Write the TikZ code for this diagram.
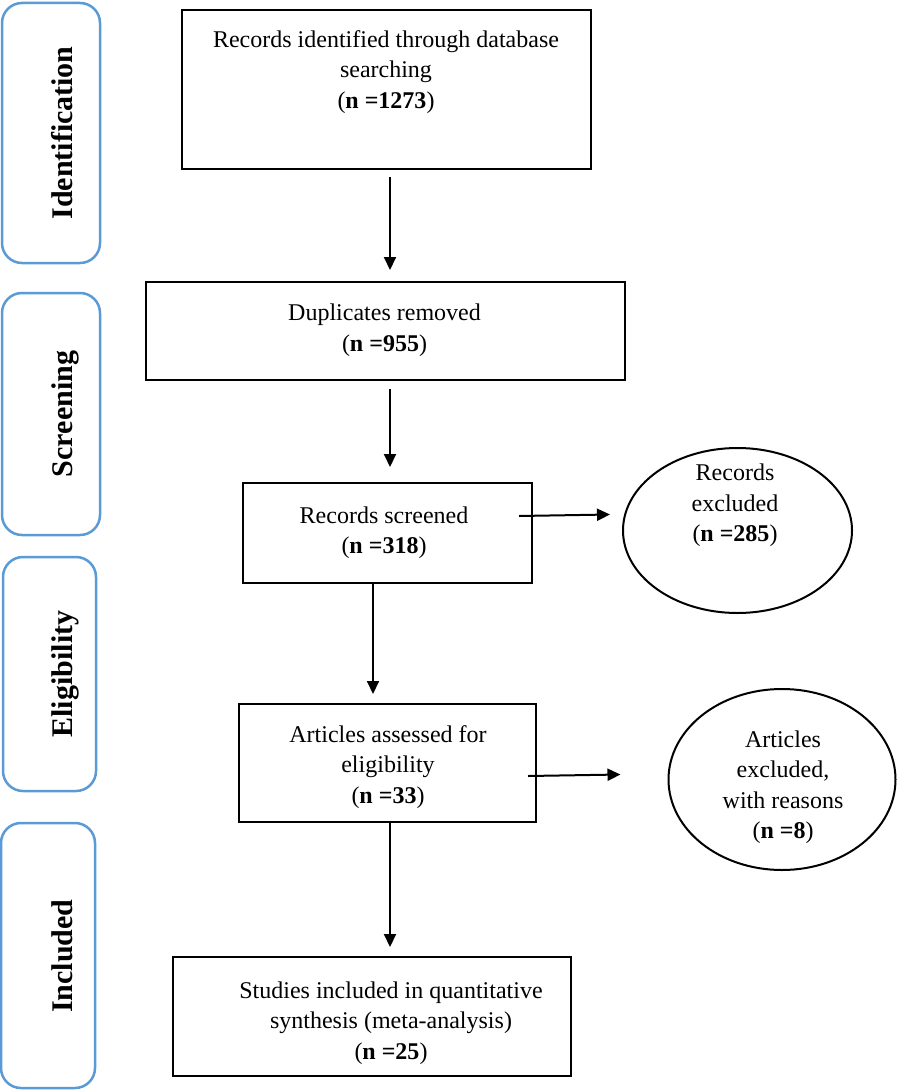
\documentclass[tikz,border=0pt]{standalone}
\usepackage{fontspec}
\setmainfont{Liberation Serif}
\usetikzlibrary{shapes.geometric,arrows.meta}
\definecolor{sideblue}{HTML}{5B9BD5}
\begin{document}
\begin{tikzpicture}[x=1pt,y=1pt,
  flowbox/.style={draw=black,line width=2pt,inner sep=0pt,rectangle},
  oval/.style={draw=black,line width=2pt,inner sep=0pt,ellipse},
  txt/.style={font=\fontsize{24}{30.5}\selectfont,align=center,inner sep=0pt},
  side/.style={draw=sideblue,line width=2.5pt,rounded corners=20pt,inner sep=0pt,rectangle},
  sidetxt/.style={font=\fontsize{30}{36}\selectfont\bfseries,rotate=90,anchor=base,inner sep=0pt},
  arr/.style={line width=2pt,-{Triangle[length=13pt,width=12pt]}}]
\fill[white] (0,0) rectangle (898,-1091);
\useasboundingbox (0,0) rectangle (898,-1091);

% side stage boxes
\node[side,minimum width=98,minimum height=260] (s1) at (51,-133) {};
\node[side,minimum width=98,minimum height=242] (s2) at (51,-414) {};
\node[side,minimum width=93,minimum height=234] (s3) at (49.5,-674) {};
\node[side,minimum width=94,minimum height=265] (s4) at (48,-955.5) {};
\node[sidetxt] (s1t) at (72,-133) {Identification};
\node[sidetxt] (s2t) at (72,-414) {Screening};
\node[sidetxt] (s3t) at (72,-674) {Eligibility};
\node[sidetxt] (s4t) at (72,-956) {Included};

% flow boxes
\node[flowbox,minimum width=409,minimum height=159] (b1) at (386.5,-89.5) {};
\node[txt] (b1t) at (386,-72) {Records identified through database\\searching\\(\textbf{n =1273})};
\node[flowbox,minimum width=479,minimum height=98] (b2) at (385.5,-331) {};
\node[txt] (b2t) at (384.5,-330) {Duplicates removed\\(\textbf{n =955})};
\node[flowbox,minimum width=289,minimum height=100] (b3) at (387.5,-533) {};
\node[txt] (b3t) at (384,-532.5) {Records screened\\(\textbf{n =318})};
\node[flowbox,minimum width=297,minimum height=118] (b4) at (387.5,-763) {};
\node[txt] (b4t) at (388,-767) {Articles assessed for\\eligibility\\(\textbf{n =33})};
\node[flowbox,minimum width=398,minimum height=119] (b5) at (372,-1016.5) {};
\node[txt] (b5t) at (391,-1023) {Studies included in quantitative\\synthesis (meta-analysis)\\(\textbf{n =25})};

% exclusion ovals
\node[oval,minimum width=229,minimum height=165] (e1) at (737.5,-530.5) {};
\node[txt] (e1t) at (735,-505.5) {Records\\excluded\\(\textbf{n =285})};
\node[oval,minimum width=227,minimum height=181] (e2) at (782,-779.5) {};
\node[txt] (e2t) at (783,-787) {Articles\\excluded,\\with reasons\\(\textbf{n =8})};

% connectors
\draw[arr,shorten <=7pt,shorten >=11pt] ([xshift=3.5pt]b1.south) -- ([xshift=4.5pt]b2.north);
\draw[arr,shorten <=8pt,shorten >=15pt] ([xshift=4.5pt]b2.south) -- ([xshift=2.5pt]b3.north);
\draw[arr,shorten >=9pt] ([xshift=-14.5pt]b3.south) -- ([xshift=-14.5pt]b4.north);
\draw[arr,shorten >=9pt] ([xshift=2.5pt]b4.south) -- ([xshift=18pt]b5.north);
\draw[arr] ([shift={(-14,17)}]b3.east) -- ([shift={(-12,16)}]e1.west);
\draw[arr] ([shift={(-9,-13)}]b4.east) -- ([shift={(-47,5)}]e2.west);
\end{tikzpicture}
\end{document}
